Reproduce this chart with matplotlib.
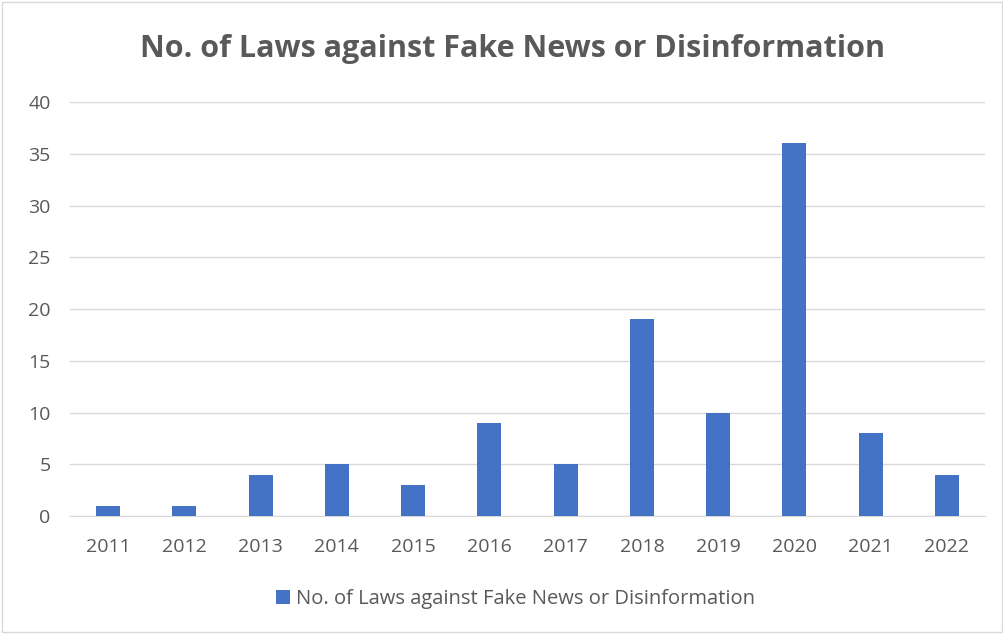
import matplotlib.pyplot as plt
from matplotlib.patches import Rectangle

years = ["2011", "2012", "2013", "2014", "2015", "2016",
         "2017", "2018", "2019", "2020", "2021", "2022"]
laws = [1, 1, 4, 5, 3, 9, 5, 19, 10, 36, 8, 4]
yticks = [0, 5, 10, 15, 20, 25, 30, 35, 40]

series_name = "No. of Laws against Fake News or Disinformation"
text_color = "#595959"

plt.rcParams["font.family"] = ["Open Sans", "DejaVu Sans"]

fig = plt.figure(figsize=(10.04, 6.34), dpi=100)
ax = fig.add_axes([0.0697, 0.186, 0.9114, 0.653])

x = range(len(years))
ax.bar(x, laws, width=0.315, color="#4472C4", label=series_name, zorder=3)

ax.set_xlim(-0.5, len(years) - 0.5)
ax.set_ylim(0, 40)
ax.set_yticks(yticks)
ax.set_xticks(list(x))
ax.set_xticklabels(years)
ax.grid(axis="y", color="#D9D9D9", linewidth=1, zorder=0)
for s in ["top", "right", "left"]:
    ax.spines[s].set_visible(False)
ax.spines["bottom"].set_color("#D9D9D9")
ax.tick_params(length=0, labelsize=14, colors=text_color)
ax.tick_params(axis="x", pad=16)
ax.tick_params(axis="y", pad=14)

fig.text(0.51, 0.922, series_name, ha="center", va="center",
         fontsize=22, fontweight="bold", color=text_color)

ax.legend(loc="center", bbox_to_anchor=(0.487, -0.2), frameon=False,
          fontsize=14.5, labelcolor=text_color, handlelength=0.7,
          handleheight=0.7, handletextpad=0.3)

# chart border
fig.patches.append(Rectangle((0.002, 0.003), 0.996, 0.994, transform=fig.transFigure,
                             fill=False, edgecolor="#D9D9D9", linewidth=1))

fig.savefig("out.png", dpi=100)
